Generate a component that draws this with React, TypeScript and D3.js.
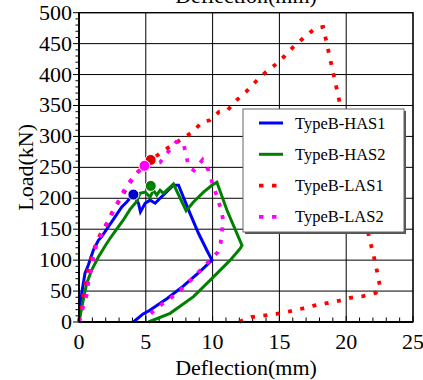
import React from "react";
import { scaleLinear, line, range } from "d3";

type Pt = [number, number];

const xTicks = [0, 5, 10, 15, 20, 25];
const yTicks = [0, 50, 100, 150, 200, 250, 300, 350, 400, 450, 500];

const has1: Pt[] = [
  [0, 0], [0.2, 46], [0.45, 79], [0.7, 92], [1.07, 116], [1.45, 132], [1.7, 138],
  [2.2, 154], [2.7, 170], [3.2, 186], [3.57, 194], [4.07, 206], [4.45, 192], [4.6, 178],
  [4.95, 192], [5.32, 197], [5.7, 192], [6.07, 200], [7.07, 221], [7.45, 221],
  [8.3, 176], [8.95, 143], [9.57, 116], [9.95, 100], [9.07, 82], [7.8, 58],
  [6.6, 38], [5.3, 19], [4.8, 13], [4.07, 0],
];

const has2: Pt[] = [
  [0, 0], [0.32, 36], [0.57, 62], [0.95, 84], [1.45, 105], [2.07, 127], [2.32, 135],
  [2.82, 150], [3.32, 165], [3.82, 182], [4.32, 195], [4.57, 208], [4.95, 210],
  [5.32, 202], [5.57, 213], [5.82, 205], [6.07, 213], [6.32, 208], [7.07, 223],
  [8.02, 180], [8.57, 194], [9.32, 210], [9.95, 221], [10.32, 226], [11.07, 181],
  [12.2, 124], [12.07, 119], [11.32, 100], [10.07, 73], [8.57, 41], [6.82, 14], [5.2, 0],
];

const las1: Pt[] = [
  [0, 0], [0.15, 20], [0.3, 40], [0.5, 65], [0.8, 95], [1.2, 122], [1.6, 142],
  [2.07, 159], [2.5, 178], [2.95, 194], [3.4, 210], [3.77, 224], [4.3, 240],
  [4.9, 254], [5.37, 262], [5.9, 270], [6.32, 277], [7.0, 286], [7.77, 297],
  [8.5, 307], [9.2, 323], [9.77, 326], [10.5, 340], [11.1, 342], [11.82, 359],
  [12.5, 372], [13.2, 388], [13.94, 403], [14.7, 416], [15.4, 430], [16.1, 446],
  [16.9, 461], [17.7, 475], [18.27, 477], [18.5, 455], [18.9, 415], [19.3, 376],
  [19.5, 356], [21.74, 135], [22.2, 94], [22.56, 54], [22.2, 47], [21.27, 42],
  [20.3, 39], [19.4, 34], [18.44, 30], [17.5, 26], [16.57, 21], [15.7, 17],
  [14.77, 13], [12.9, 8], [11.95, 0],
];

const las2: Pt[] = [
  [0, 0], [0.32, 25], [0.57, 44], [0.7, 65], [0.9, 85], [1.07, 105], [1.3, 125],
  [1.7, 143], [2.3, 168], [2.9, 193], [3.57, 221], [4.3, 240], [4.9, 252],
  [5.5, 255], [6.07, 258], [6.6, 273], [7.27, 291], [7.8, 290], [8.0, 272],
  [8.2, 251], [8.6, 245], [9.25, 262], [9.7, 245], [9.95, 227], [10.3, 205],
  [10.57, 186], [10.8, 165], [10.6, 127], [10.4, 113], [10.07, 106], [9.45, 92],
  [8.82, 78], [8.12, 62], [7.45, 49], [6.7, 36], [5.82, 23], [5.2, 10], [5.05, 3],
];

const seriesNames = ["TypeB-HAS1", "TypeB-HAS2", "TypeB-LAS1", "TypeB-LAS2"];
const seriesColors = ["#0000ff", "#008000", "#ff0000", "#ff00ff"];
const seriesData = [has1, has2, las1, las2];
const seriesDashed = [false, false, true, true];

// peak markers
const peakPoints: Pt[] = [[4.07, 206], [5.37, 220], [5.37, 262], [4.9, 252.5]];
const peakColors = ["#0000cc", "#008000", "#dd0000", "#ff00ff"];

const W = 423;
const H = 380;
const M = { left: 79, right: 10, top: 12.7, bottom: 58 };
const serif = { fontFamily: "Liberation Serif, Times New Roman, serif" };

export default function App() {
  const x = scaleLinear().domain([0, 25]).range([M.left, W - M.right]);
  const y = scaleLinear().domain([0, 500]).range([H - M.bottom, M.top]);
  const path = line<Pt>().x((d) => x(d[0])).y((d) => y(d[1]));

  const x0 = x(0), x1 = x(25), y0 = y(0), y1 = y(500);
  const lgX = 243, lgY = 109, lgW = 161, lgH = 123;

  return (
    <svg width={W} height={H} style={{ position: "absolute", left: 0, top: 0, background: "#fff" }}>
      {/* grid */}
      {xTicks.map((t) => (
        <line key={"gx" + t} x1={x(t)} x2={x(t)} y1={y1} y2={y0} stroke="#000" strokeWidth={1} />
      ))}
      {yTicks.map((t) => (
        <line key={"gy" + t} x1={x0} x2={x1} y1={y(t)} y2={y(t)} stroke="#000" strokeWidth={1} />
      ))}

      {/* minor ticks */}
      {range(0, 501, 10).map((t) => (
        <line key={"my" + t} x1={x0 - (t % 50 === 0 ? 6 : 3.5)} x2={x0} y1={y(t)} y2={y(t)} stroke="#000" strokeWidth={1} />
      ))}
      {range(0, 26, 1).map((t) => (
        <line key={"mx" + t} x1={x(t)} x2={x(t)} y1={y0} y2={y0 - (t % 5 === 0 ? 6 : 4.5)} stroke="#000" strokeWidth={1} />
      ))}

      {/* series */}
      {seriesData.map((d, i) => (
        <path
          key={seriesNames[i]}
          d={path(d) || ""}
          fill="none"
          stroke={seriesColors[i]}
          strokeWidth={seriesDashed[i] ? 3.8 : 3}
          strokeDasharray={seriesDashed[i] ? "4 8.5" : undefined}
          strokeLinejoin="miter"
        />
      ))}

      {peakPoints.map((p, i) => (
        <circle key={"pk" + i} cx={x(p[0])} cy={y(p[1])} r={5.5} fill={peakColors[i]} stroke="#fff" strokeWidth={1} />
      ))}

      {/* frame */}
      <rect x={x0} y={y1} width={x1 - x0} height={y0 - y1} fill="none" stroke="#000" strokeWidth={1.2} />
      <line x1={x0} x2={x1} y1={y0} y2={y0} stroke="#000" strokeWidth={1.8} />
      <line x1={x0} x2={x0} y1={y0} y2={y1} stroke="#000" strokeWidth={1.8} />

      {/* legend */}
      <rect x={lgX + 2} y={lgY + 2} width={lgW} height={lgH} fill="#555" />
      <rect x={lgX} y={lgY} width={lgW} height={lgH} fill="#fff" stroke="#666" strokeWidth={1} />
      {seriesNames.map((n, i) => {
        const cy = lgY + 14 + i * 31.3;
        return (
          <g key={"lg" + n}>
            <line
              x1={lgX + 16}
              x2={lgX + 40}
              y1={cy}
              y2={cy}
              stroke={seriesColors[i]}
              strokeWidth={seriesDashed[i] ? 3.8 : 3}
              strokeDasharray={seriesDashed[i] ? "4.5 8.5" : undefined}
            />
            <text x={lgX + 52} y={cy + 5.5} style={serif} fontSize={16.5} fill="#000">
              {n}
            </text>
          </g>
        );
      })}

      {/* tick labels */}
      {yTicks.map((t) => (
        <text key={"ly" + t} x={x0 - 7} y={y(t) + 7} textAnchor="end" style={serif} fontSize={22} fill="#000">
          {t}
        </text>
      ))}
      {xTicks.map((t) => (
        <text key={"lx" + t} x={x(t)} y={y0 + 27} textAnchor="middle" style={serif} fontSize={22} fill="#000">
          {t}
        </text>
      ))}

      {/* axis titles */}
      <text x={(x0 + x1) / 2} y={375} textAnchor="middle" style={serif} fontSize={22} fill="#000">
        Deflection(mm)
      </text>
      <text x={(x0 + x1) / 2} y={3} textAnchor="middle" style={serif} fontSize={22} fill="#000">
        Deflection(mm)
      </text>
      <text
        transform={`translate(33, ${(y0 + y1) / 2}) rotate(-90)`}
        textAnchor="middle"
        style={serif}
        fontSize={22}
        fill="#000"
      >
        Load(kN)
      </text>
    </svg>
  );
}
